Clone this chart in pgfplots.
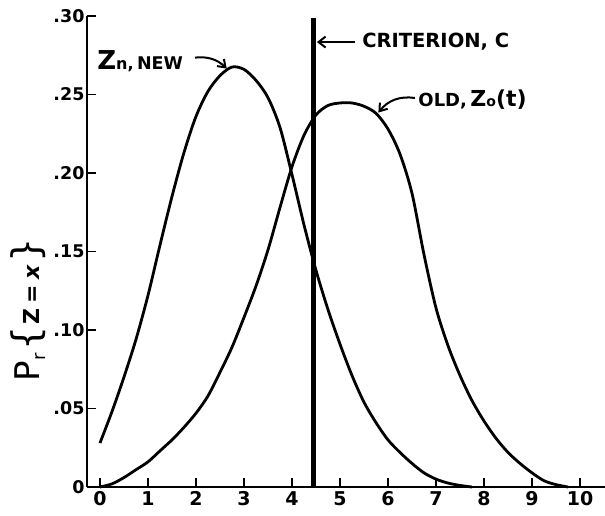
\documentclass[border=0pt]{standalone}
\usepackage{pgfplots}
\pgfplotsset{compat=1.18}
\usepackage{fontspec}
\setmainfont{DejaVu Sans}
\usetikzlibrary{arrows.meta}

\begin{document}
\begin{tikzpicture}
\useasboundingbox (-87pt,-29pt) rectangle (518pt,487pt);
\begin{axis}[
    scale only axis,
    width=518pt, height=471pt,
    xmin=-0.27, xmax=10.52,
    ymin=0, ymax=0.30,
    axis x line=bottom, axis y line=left,
    axis line style={-, line width=2.6pt},
    tick align=inside,
    major tick length=9pt,
    tick style={line width=1.8pt, black},
    xtick={0,1,2,3,4,5,6,7,8,9,10},
    xticklabels={0,1,2,3,4,5,6,7,8,9,10},
    ytick={0,0.05,0.10,0.15,0.20,0.25,0.30},
    yticklabels={0,.05,.10,.15,.20,.25,.30},
    xticklabel style={font=\bfseries\fontsize{19}{21}\selectfont, yshift=-1pt},
    yticklabel style={font=\bfseries\fontsize{17.5}{19}\selectfont, xshift=1pt},
    clip=false,
]

% Zn, new
\addplot[black, no markers, smooth, line width=2.8pt, line join=round] coordinates {
    (0,0.028)(0.25,0.048)(0.5,0.070)(0.75,0.094)(1.0,0.122)(1.25,0.154)
    (1.5,0.185)(1.75,0.213)(2.0,0.236)(2.25,0.252)(2.5,0.262)(2.75,0.2675)
    (3.0,0.266)(3.25,0.259)(3.5,0.248)(3.75,0.229)(4.0,0.199)(4.25,0.167)
    (4.5,0.138)(4.75,0.113)(5.0,0.091)(5.25,0.071)(5.5,0.054)(5.75,0.041)
    (6.0,0.030)(6.25,0.022)(6.5,0.015)(6.75,0.009)(7.0,0.005)(7.25,0.0025)
    (7.5,0.001)(7.75,0)
};

% Zo(t), old
\addplot[black, no markers, smooth, line width=2.8pt, line join=round] coordinates {
    (0,0)(0.25,0.002)(0.5,0.006)(0.75,0.011)(1.0,0.016)(1.25,0.023)
    (1.5,0.030)(1.75,0.038)(2.0,0.047)(2.25,0.058)(2.5,0.073)(2.75,0.089)
    (3.0,0.108)(3.25,0.128)(3.5,0.151)(3.75,0.178)(4.0,0.204)(4.25,0.224)
    (4.5,0.237)(4.75,0.243)(5.0,0.2446)(5.25,0.2446)(5.5,0.2425)(5.75,0.238)
    (6.0,0.228)(6.25,0.212)(6.5,0.187)(6.75,0.148)(7.0,0.114)(7.25,0.090)
    (7.5,0.071)(7.75,0.055)(8.0,0.042)(8.25,0.031)(8.5,0.022)(8.75,0.015)
    (9.0,0.009)(9.25,0.004)(9.5,0.0015)(9.75,0)
};

% criterion
\addplot[black, no markers, line width=5pt] coordinates {(4.44,0)(4.44,0.299)};

\node[anchor=west, inner sep=0pt] at (axis cs:-0.06,0.271)
    {\bfseries{\fontsize{26}{28}\selectfont Z}{\fontsize{16}{18}\selectfont n,} {\fontsize{17.5}{19}\selectfont NEW}};
\draw[-{Straight Barb[length=7pt,width=10pt]}, line width=2pt]
    (axis cs:1.98,0.2735) to[bend left=25] (axis cs:2.64,0.2665);

\node[anchor=west, inner sep=0pt] at (axis cs:5.46,0.2834)
    {\bfseries\fontsize{19.5}{21}\selectfont CRITERION, C};
\draw[-{Straight Barb[length=7pt,width=11pt]}, line width=2pt]
    (axis cs:5.31,0.2834) -- (axis cs:4.52,0.2834);

\node[anchor=west, inner sep=0pt] at (axis cs:6.63,0.2465)
    {\bfseries{\fontsize{18}{20}\selectfont OLD,} {\fontsize{22}{24}\selectfont Z}{\fontsize{14}{16}\selectfont o}{\fontsize{22}{24}\selectfont (t)}};
\draw[-{Straight Barb[length=7pt,width=10pt]}, line width=2pt]
    (axis cs:6.56,0.2478) to[bend right=30] (axis cs:5.80,0.2385);
\end{axis}

\node[rotate=90] at (-59pt,177pt)
    {{\fontsize{34}{36}\selectfont P}\raisebox{-6pt}{\fontsize{18}{20}\selectfont r}\kern3pt%
     {\fontsize{38}{40}\selectfont\{}\kern2pt{\fontsize{22}{24}\selectfont\bfseries Z\kern5pt=\kern5pt\textit{x}}\kern2pt{\fontsize{38}{40}\selectfont\}}};
\end{tikzpicture}
\end{document}
